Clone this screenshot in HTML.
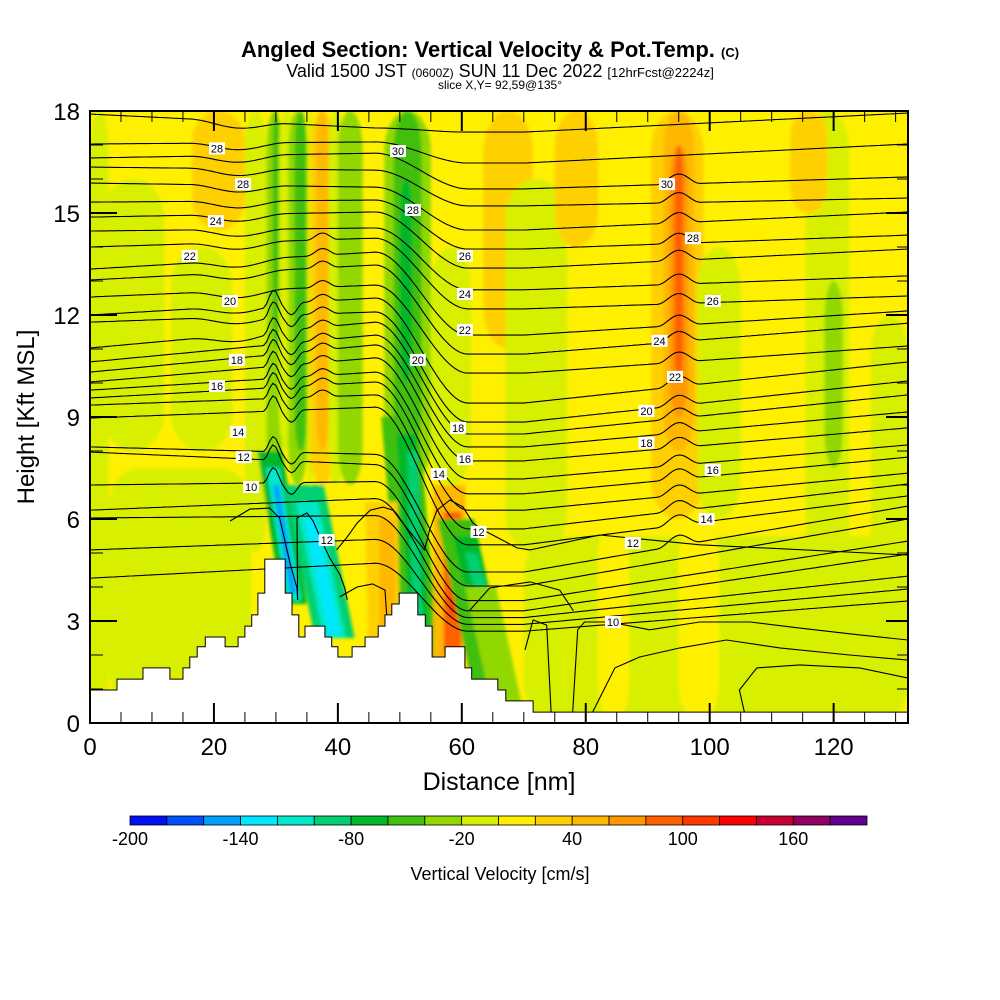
<!DOCTYPE html>
<html><head><meta charset="utf-8">
<style>
html,body{margin:0;padding:0;background:#fff;}
svg{display:block;font-family:"Liberation Sans",Arial,sans-serif;}
</style></head>
<body>
<svg id="chart" width="1000" height="1000" viewBox="0 0 1000 1000" xmlns="http://www.w3.org/2000/svg">
<rect x="0" y="0" width="1000" height="1000" fill="#fff"/>
<text x="490" y="57" text-anchor="middle" font-size="22" font-weight="bold">Angled Section: Vertical Velocity &amp; Pot.Temp. <tspan font-size="13">(C)</tspan></text>
<text x="500" y="77" text-anchor="middle" font-size="18">Valid 1500 JST <tspan font-size="12">(0600Z)</tspan> SUN 11 Dec 2022 <tspan font-size="13">[12hrFcst@2224z]</tspan></text>
<text x="500" y="89" text-anchor="middle" font-size="12">slice X,Y= 92,59@135°</text>
<defs>
<clipPath id="plotclip"><rect x="90" y="111" width="818" height="612"/></clipPath>
<filter id="soft"><feGaussianBlur stdDeviation="1.5"/></filter>
</defs>
<g id="plot" clip-path="url(#plotclip)">
<rect x="90" y="111" width="818" height="612" fill="#fff000"/>
<g id="field" filter="url(#soft)"></g>
<g id="contours"></g>
<g id="terrain"></g>
<g id="clabels"></g>
</g>
<rect x="90" y="111" width="818" height="612" fill="none" stroke="#000" stroke-width="2"/>
<g id="axes"></g>
<text x="0" y="0" transform="translate(34,417) rotate(-90)" text-anchor="middle" font-size="24">Height [Kft MSL]</text>
<text x="499" y="790" text-anchor="middle" font-size="25">Distance [nm]</text>
<g id="colorbar"></g>
<text x="500" y="880" text-anchor="middle" font-size="18">Vertical Velocity [cm/s]</text>
</svg>
<script>
// ---- scales / data ----
const xTicks = [0,20,40,60,80,100,120];
const yTicks = [0,3,6,9,12,15,18];
const cbLevels = [-200,-180,-160,-140,-120,-100,-80,-60,-40,-20,0,20,40,60,80,100,120,140,160,180,200];
const cbColors = ["#0010f0","#0050ff","#00a0ff","#00e8ff","#00e8c8","#00d070","#00b828","#40c010","#90d800","#d8f000","#fff000","#ffd000","#ffb800","#ff9800","#ff6000","#ff3800","#ff0000","#c80030","#900060","#600090"];
const cbLabels = [-200,-140,-80,-20,40,100,160];

// vertical velocity blobs: x0,x1 (nm), z0,z1 (kft), value (cm/s)
const blobX0 = [0,  3, 16.5,25,28.5,29.5,30.5,32,33,35,35.5,36.5,38.5,40,41,47.5,49,50,55,63.5,67,75,90.5,92.5,93.5,94.3,98,115.5,118.5,113,126,70,82,95,2,13];
const blobX1 = [3, 26,25,28.5,31,30.5,33,35,35,36,39.5,38.5,41,44,43.5,55,53.5,52,61.5,71.5,77,82,99,97.5,96.5,95.7,105,122.5,121.5,119,132,132,87,101.5,12,23];
const blobZ0 = [0,0.5,14.5,5,7,11,8,7,8,7,7,8,7,7,9,7,8,10,7,11,5,14,6,8,9,10,6,3,7.5,15,2,0,0,0,8,8];
const blobZ1 = [18,7.5,18,18,18,18,18,18,18,18,18,18,18,18,17,18,18,16,14,18,16,18,18,18,17,17,14,18,13,18,12,5.5,6,6,16,14];
const blobV  = [-10,-10,30,-10,-30,-50,-10,-30,-50,-10,30,50,-10,-30,-30,-30,-50,-70,-10,30,-10,30,30,50,70,90,-10,-10,-30,30,-10,-10,10,10,-10,-10];

// slanted bands (mountain waves): top x, bottom x (nm), half width (nm), top z, bottom z (kft), value
const slX0 = [29.0,29.5,30.0,34.5,35.0,35.5,50.0,51.0,52.0,58.0,58.5,58.8,47.0,48.0,59.0,60.5,61.5,63.0];
const slX1 = [33.0,33.0,32.8,39.5,39.5,39.5,53.5,53.5,53.0,58.0,58.5,58.8,47.5,48.0,65.0,66.0,67.0,67.5];
const slHW = [2.0,1.1,0.5,3.2,1.8,0.9,3.0,1.6,0.8,2.6,1.4,0.7,2.6,1.3,3.0,2.0,1.0,2.5];
const slZ0 = [8.0,7.5,7.0,7.0,6.5,6.0,9.0,8.5,8.0,7.0,6.2,5.3,6.5,6.0,6.0,5.5,5.0,4.0];
const slZ1 = [3.5,3.6,3.8,2.5,2.5,2.6,1.5,2.0,2.5,1.5,2.0,3.2,2.0,2.5,0.8,1.0,1.2,0.3];
const slV  = [-70,-110,-150,-90,-110,-130,-50,-70,-90,50,90,110,30,50,-50,-70,-90,-30];

// terrain profile (nm, kft)
const terrX = [0,4.36,8.55,12.9,15.0,16.1,17.3,18.6,21.8,23.9,25.0,26.1,27.1,28.2,31.5,32.6,33.7,34.7,37.9,39.0,40.0,42.3,44.4,46.5,47.6,48.7,49.9,52.9,54.1,55.2,57.3,60.5,61.6,65.8,67.1,71.5,132];
const terrH = [0.97,1.29,1.62,1.29,1.62,1.94,2.24,2.53,2.24,2.53,2.85,3.18,3.82,4.82,3.82,3.18,2.53,2.85,2.53,2.24,1.94,2.24,2.53,2.85,3.18,3.5,3.82,3.18,2.85,1.94,2.24,1.62,1.29,0.97,0.65,0.32,0.32];

// potential temperature lines: heights (kft) at anchor distances
const anchorX = [0,46,70,132];
const thA0 = [17.91,17.03,16.62,16.35,15.88,15.32,14.88,14.47,14.0,13.35,13.03,12.53,12.0,11.79,11.03,10.62,10.32,10.03,9.79,9.56,9.35,8.97,8.12,7.97,7.0,6.26,6.03,5.09,4.26];
const thA1 = [17.5,17.09,16.76,16.26,15.76,15.38,15.03,14.56,14.26,13.85,13.47,12.88,12.5,12.09,11.79,11.41,11.12,10.74,10.32,10.03,9.65,9.29,7.9,7.6,7.1,6.6,6.1,5.4,4.7];
const thA2 = [17.38,16.47,15.71,15.21,14.5,13.94,13.38,12.74,12.18,11.41,10.85,10.29,9.41,8.85,8.5,8.12,7.71,7.18,6.74,6.26,5.71,5.24,4.44,4.03,3.6,3.3,3.1,2.9,2.7];
const thA3 = [17.94,17.03,16.06,15.44,15.03,14.35,13.94,13.15,12.56,12.12,11.76,11.09,10.62,10.06,9.65,9.15,8.68,8.18,7.82,7.35,7.03,6.68,6.38,6.0,5.35,4.97,4.32,3.94,3.59];
// local distortions: center (nm), half width (nm), displacement (kft), first line, last line
const bumpX  = [29.6,32.5,37.5,95.0,24.0];
const bumpW  = [1.6,2.0,2.5,3.5,8.0];
const bumpDZ = [0.45,-0.35,0.2,0.3,-0.2];
const bumpI0 = [12,12,8,2,0];
const bumpI1 = [24,24,20,22,14];

// explicit wave lines near terrain (nm / kft)
const waveX = [
 [22.6,25.8,29.0,30.6,32.3,33.4,33.5],
 [33.5,33.4,35.0,36.0,37.4,38.7,40.3,41.1,41.5],
 [39.8,41.5,43.1,45.2,47.3,48.9,50.5,52.7,54.0,54.8,56.0,58.1,60.2,61.8,63.4,65.6,68.9,71.0,82.3,98.4,132],
 [40.3,43.1,45.6,47.6,47.9],
 [61.3,64.5,71.0,75.8,78.0],
 [70.2,71.5,73.7,74.4],
 [77.9,78.7,79.8,83.9,90.3,98.4,106.5,114.5,124.2,132],
 [81.1,84.7,88.7,95.2,102.7,111.3,122.6,132],
 [105.6,104.8,107.6,114.5,124.2,132]
];
const waveZ = [
 [5.94,6.29,6.32,6.03,4.68,3.97,3.62],
 [3.62,6.03,6.18,5.94,5.35,4.85,4.38,3.97,3.62],
 [5.09,5.47,5.88,6.26,6.35,6.26,5.88,5.38,5.09,5.68,6.26,6.56,6.35,5.88,5.68,5.47,5.15,5.09,5.53,5.24,4.94],
 [3.71,4.0,4.09,3.91,3.12],
 [3.32,3.97,4.15,3.91,3.3],
 [2.15,3.03,2.88,0.32],
 [0.32,2.74,2.97,2.97,2.74,2.97,2.97,2.79,2.59,2.44],
 [0.32,1.62,1.94,2.21,2.44,2.21,2.0,1.85],
 [0.32,0.97,1.62,1.71,1.62,1.32]
];

// contour labels
const labX = [20.5,24.7,20.3,16.1,22.6,23.7,20.5,23.9,24.8,26.0,38.2,49.7,52.1,60.5,60.5,60.5,52.9,59.4,60.5,56.3,62.7,93.1,97.3,100.5,91.9,94.4,89.8,89.8,100.5,99.5,87.6,84.4];
const labZ = [16.9,15.85,14.76,13.74,12.41,10.68,9.91,8.56,7.82,6.94,5.38,16.82,15.09,13.74,12.62,11.56,10.68,8.68,7.76,7.32,5.62,15.85,14.26,12.41,11.24,10.18,9.18,8.24,7.44,6.0,5.29,2.97];
const labT = ["28","28","24","22","20","18","16","14","12","10","12","30","28","26","24","22","20","18","16","14","12","30","28","26","24","22","20","18","16","14","12","10"];

// ---- helpers ----
const NS = "http://www.w3.org/2000/svg";
const X0 = 90, X1 = 908, Y0 = 723, Y1 = 111, XMAX = 132, ZMAX = 18;
function sx(v){ return X0 + (X1 - X0) * v / XMAX; }
function sy(v){ return Y0 - (Y0 - Y1) * v / ZMAX; }
function colorFor(v){
  for (let i = 0; i < cbColors.length; i++) { if (v >= cbLevels[i] && v < cbLevels[i+1]) return cbColors[i]; }
  return v < cbLevels[0] ? cbColors[0] : cbColors[cbColors.length-1];
}
function mk(tag, parent){ const e = document.createElementNS(NS, tag); parent.appendChild(e); return e; }

// ---- field ----
const field = document.getElementById('field');
for (let i = 0; i < blobV.length; i++) {
  const r = mk('rect', field);
  
  
  const x = sx(blobX0[i]), w = sx(blobX1[i]) - x, y = sy(blobZ1[i]), h = sy(blobZ0[i]) - y;
  r.setAttribute('x', x); r.setAttribute('y', y); r.setAttribute('width', w); r.setAttribute('height', h);
  r.setAttribute('rx', Math.min(w/2, 30)); r.setAttribute('ry', Math.min(h/4, 40));
  r.setAttribute('fill', colorFor(blobV[i]));
}
for (let i = 0; i < slV.length; i++) {
  const p = mk('polygon', field);
  
  
  const pts = [[slX0[i]-slHW[i], slZ0[i]], [slX0[i]+slHW[i], slZ0[i]], [slX1[i]+slHW[i], slZ1[i]], [slX1[i]-slHW[i], slZ1[i]]];
  p.setAttribute('points', pts.map(q => sx(q[0]).toFixed(1) + ',' + sy(q[1]).toFixed(1)).join(' '));
  p.setAttribute('fill', colorFor(slV[i]));
}

// ---- contours ----
const cg = document.getElementById('contours');
function smooth(t){ return t * t * (3 - 2 * t); }
function interpA(x, i){
  const vals = [thA0[i], thA1[i], thA2[i], thA3[i]];
  for (let k = 0; k < anchorX.length - 1; k++) {
    if (x <= anchorX[k+1]) {
      let t = (x - anchorX[k]) / (anchorX[k+1] - anchorX[k]);
      if (k === 1) t = smooth(Math.min(1, t * 1.6));
      return vals[k] + (vals[k+1] - vals[k]) * t;
    }
  }
  return vals[vals.length-1];
}
for (let i = 0; i < thA0.length; i++) {
  let d = '';
  for (let x = 0; x <= XMAX + 0.01; x += 0.5) {
    let z = interpA(x, i);
    for (let b = 0; b < bumpX.length; b++) {
      if (i >= bumpI0[b] && i <= bumpI1[b]) { const u = (x - bumpX[b]) / bumpW[b]; if (Math.abs(u) < 1) z += bumpDZ[b] * 0.5 * (1 + Math.cos(Math.PI * u)); }
    }
    d += (x === 0 ? 'M' : 'L') + sx(x).toFixed(1) + ',' + sy(z).toFixed(1);
  }
  const p = mk('path', cg);
  
  
  p.setAttribute('d', d); p.setAttribute('fill', 'none'); p.setAttribute('stroke', '#000'); p.setAttribute('stroke-width', '1.1');
}
for (let i = 0; i < waveX.length; i++) {
  const p = mk('path', cg);
  
  
  p.setAttribute('d', waveX[i].map((x, k) => (k ? 'L' : 'M') + sx(x).toFixed(1) + ',' + sy(waveZ[i][k]).toFixed(1)).join(''));
  p.setAttribute('fill', 'none'); p.setAttribute('stroke', '#000'); p.setAttribute('stroke-width', '1.1');
}

// ---- terrain (stepped) ----
const tg = document.getElementById('terrain');
let td = 'M' + sx(0) + ',' + Y0;
for (let i = 0; i < terrX.length - 1; i++) {
  td += 'L' + sx(terrX[i]).toFixed(1) + ',' + sy(terrH[i]).toFixed(1) + 'L' + sx(terrX[i+1]).toFixed(1) + ',' + sy(terrH[i]).toFixed(1);
}
td += 'L' + sx(XMAX) + ',' + sy(terrH[terrH.length-1]).toFixed(1) + 'L' + sx(XMAX) + ',' + Y0 + 'Z';
const tp = mk('path', tg);


tp.setAttribute('d', td); tp.setAttribute('fill', '#fff'); tp.setAttribute('stroke', '#000'); tp.setAttribute('stroke-width', '1');

// ---- contour labels ----
const lg = document.getElementById('clabels');
for (let i = 0; i < labT.length; i++) {
  const g = mk('g', lg);
  
  
  const r = mk('rect', g);
  r.setAttribute('x', sx(labX[i]) - 8); r.setAttribute('y', sy(labZ[i]) - 6); r.setAttribute('width', 16); r.setAttribute('height', 12); r.setAttribute('fill', '#fff');
  const t = mk('text', g);
  t.setAttribute('x', sx(labX[i])); t.setAttribute('y', sy(labZ[i]) + 4); t.setAttribute('text-anchor', 'middle'); t.setAttribute('font-size', '11');
  t.textContent = labT[i];
}

// ---- axes ----
const ag = document.getElementById('axes');
for (let v = 0; v <= XMAX; v += 5) {
  const major = v % 20 === 0, len = major ? 20 : 11;
  [[Y0, Y0 - len], [Y1, Y1 + len]].forEach(pr => {
    const l = mk('line', ag);
    
    
    l.setAttribute('x1', sx(v)); l.setAttribute('x2', sx(v)); l.setAttribute('y1', pr[0]); l.setAttribute('y2', pr[1]);
    l.setAttribute('stroke', '#000'); l.setAttribute('stroke-width', major ? 2 : 1);
  });
}
for (let v = 0; v <= ZMAX; v += 1) {
  const major = v % 3 === 0, len = major ? 27 : 13;
  [[X0, X0 + len], [X1, X1 - (major ? 22 : 11)]].forEach(pr => {
    const l = mk('line', ag);
    
    
    l.setAttribute('y1', sy(v)); l.setAttribute('y2', sy(v)); l.setAttribute('x1', pr[0]); l.setAttribute('x2', pr[1]);
    l.setAttribute('stroke', '#000'); l.setAttribute('stroke-width', major ? 2 : 1);
  });
}
xTicks.forEach(v => {
  const t = mk('text', ag);
  
  
  t.setAttribute('x', sx(v)); t.setAttribute('y', 755); t.setAttribute('text-anchor', 'middle'); t.setAttribute('font-size', '24');
  t.textContent = v;
});
yTicks.forEach(v => {
  const t = mk('text', ag);
  
  
  t.setAttribute('x', 80); t.setAttribute('y', sy(v) + 9); t.setAttribute('text-anchor', 'end'); t.setAttribute('font-size', '24');
  t.textContent = v;
});

// ---- colorbar ----
const cb = document.getElementById('colorbar');
const CB0 = 130, CB1 = 867, CBY = 816, CBH = 9;
function cbx(v){ return CB0 + (CB1 - CB0) * (v - cbLevels[0]) / (cbLevels[cbLevels.length-1] - cbLevels[0]); }
for (let i = 0; i < cbColors.length; i++) {
  const r = mk('rect', cb);
  
  
  r.setAttribute('x', cbx(cbLevels[i])); r.setAttribute('y', CBY); r.setAttribute('width', cbx(cbLevels[i+1]) - cbx(cbLevels[i])); r.setAttribute('height', CBH);
  r.setAttribute('fill', cbColors[i]); r.setAttribute('stroke', '#000'); r.setAttribute('stroke-width', '0.8');
}
cbLabels.forEach(v => {
  const t = mk('text', cb);
  
  
  t.setAttribute('x', cbx(v)); t.setAttribute('y', 845); t.setAttribute('text-anchor', 'middle'); t.setAttribute('font-size', '18');
  t.textContent = v;
});
</script>
</body></html>
